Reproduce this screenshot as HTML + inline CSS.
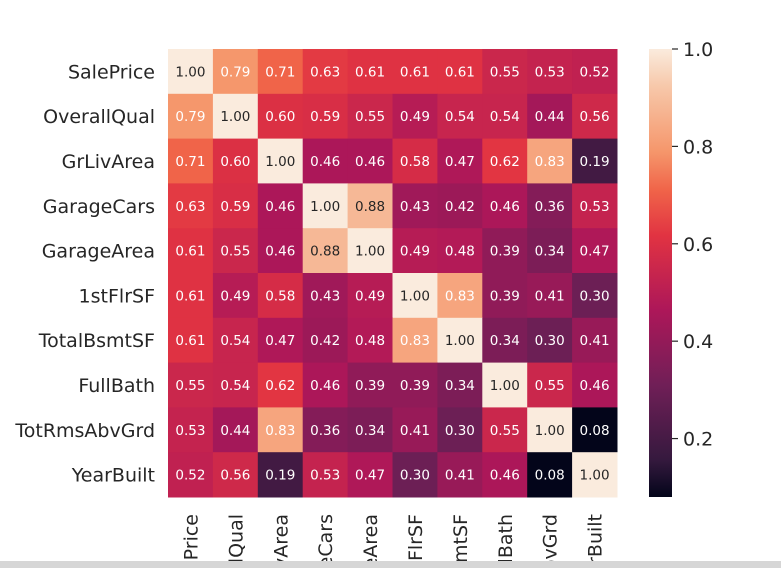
<!DOCTYPE html>
<html><head><meta charset="utf-8"><style>
html,body{margin:0;background:#fff;width:781px;height:568px;overflow:hidden;position:relative;font-family:"DejaVu Sans","Liberation Sans",sans-serif}
svg{position:absolute;left:0;top:0;overflow:hidden}
</style></head><body>
<svg id="chart" width="781" height="568"></svg>
<script>
const labels=["SalePrice","OverallQual","GrLivArea","GarageCars","GarageArea","1stFlrSF","TotalBsmtSF","FullBath","TotRmsAbvGrd","YearBuilt"];
const row0=[1.00,0.79,0.71,0.63,0.61,0.61,0.61,0.55,0.53,0.52];
const row1=[0.79,1.00,0.60,0.59,0.55,0.49,0.54,0.54,0.44,0.56];
const row2=[0.71,0.60,1.00,0.46,0.46,0.58,0.47,0.62,0.83,0.19];
const row3=[0.63,0.59,0.46,1.00,0.88,0.43,0.42,0.46,0.36,0.53];
const row4=[0.61,0.55,0.46,0.88,1.00,0.49,0.48,0.39,0.34,0.47];
const row5=[0.61,0.49,0.58,0.43,0.49,1.00,0.83,0.39,0.41,0.30];
const row6=[0.61,0.54,0.47,0.42,0.48,0.83,1.00,0.34,0.30,0.41];
const row7=[0.55,0.54,0.62,0.46,0.39,0.39,0.34,1.00,0.55,0.46];
const row8=[0.53,0.44,0.83,0.36,0.34,0.41,0.30,0.55,1.00,0.08];
const row9=[0.52,0.56,0.19,0.53,0.47,0.30,0.41,0.46,0.08,1.00];
const matrix=[row0,row1,row2,row3,row4,row5,row6,row7,row8,row9];
const cbTicks=[0.2,0.4,0.6,0.8,1.0];
const vmin=0.08,vmax=1.0;
const X0=168,X1=617,Y0=49,Y1=497;
const cw=(X1-X0)/labels.length,ch=(Y1-Y0)/labels.length;
const stops=[[0,[3,5,26]],[0.083,[53,25,62]],[0.25,[112,31,87]],[0.417,[173,23,89]],[0.583,[225,51,66]],[0.685,[240,100,73]],[0.77,[245,150,107]],[0.917,[247,200,170]],[1,[250,235,221]]];
function cmap(v){let t=(v-vmin)/(vmax-vmin);t=Math.max(0,Math.min(1,t));
for(let i=1;i<stops.length;i++){if(t<=stops[i][0]){const a=stops[i-1],b=stops[i];const f=(t-a[0])/(b[0]-a[0]);
const c=a[1].map((x,k)=>Math.round(x+(b[1][k]-x)*f));return `rgb(${c})`;}}return 'rgb(250,235,221)';}
function xs(i){return X0+i*cw}
function ys(j){return Y0+j*ch}
const NS="http://www.w3.org/2000/svg",svg=document.getElementById('chart');
function mk(tag,attrs,parent){const e=document.createElementNS(NS,tag);for(const k in attrs)e.setAttribute(k,attrs[k]);(parent||svg).appendChild(e);return e;}
const defs=mk('defs',{});
const clip=mk('clipPath',{id:'clipAll'},defs);mk('rect',{x:0,y:0,width:781,height:561},clip);
const xg=mk('g',{'clip-path':'url(#clipAll)'});


matrix.forEach((row,j)=>row.forEach((v,i)=>{
 const r=mk('rect',{x:xs(i),y:ys(j),width:cw+0.5,height:ch+0.5,fill:cmap(v)});
 
 
 const t=mk('text',{x:xs(i)+cw/2,y:ys(j)+ch/2+5,'text-anchor':'middle','font-size':'13.5',fill:((v-vmin)/(vmax-vmin)>0.84?'#262626':'#ffffff')});
 t.textContent=v.toFixed(2);
 
 
}));
labels.forEach((l,j)=>{
 const t=mk('text',{x:155,y:ys(j)+ch/2+7,'text-anchor':'end','font-size':'19',fill:'#262626'});
 t.textContent=l;
 
 
 const cx=xs(j)+cw/2+7;
 const u=mk('text',{x:cx,y:514,'text-anchor':'end','font-size':'19',fill:'#262626',transform:`rotate(-90 ${cx} 514)`},xg);
 u.textContent=l;
 
 
});
const CB0=649,CB1=672;
const g=mk('linearGradient',{id:'cb',x1:0,y1:1,x2:0,y2:0},defs);
stops.forEach(s=>{mk('stop',{offset:s[0],'stop-color':`rgb(${s[1]})`},g)});
const cb=mk('rect',{x:CB0,y:Y0,width:CB1-CB0,height:Y1-Y0,fill:'url(#cb)'});


function cy(v){return Y1-(v-vmin)/(vmax-vmin)*(Y1-Y0)}
cbTicks.forEach(v=>{
 const y=cy(v);
 const l=mk('line',{x1:CB1,x2:CB1+6,y1:y,y2:y,stroke:'#262626','stroke-width':1.2});
 
 
 const t=mk('text',{x:CB1+11,y:y+7,'font-size':'19',fill:'#262626'});
 t.textContent=v.toFixed(1);
 
 
});
const bar=mk('rect',{x:0,y:561,width:781,height:7,fill:'#d6d6d6'});


</script>
</body></html>
